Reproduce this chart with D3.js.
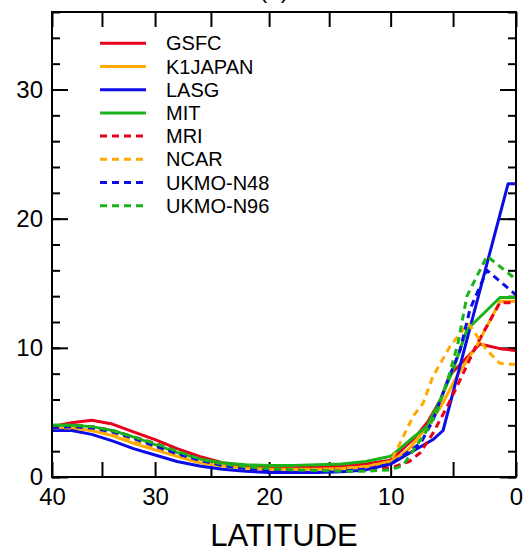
<!DOCTYPE html>
<html>
<head>
<meta charset="utf-8">
<script src="https://cdn.jsdelivr.net/npm/d3@7"></script>
<style>
  body { margin: 0; background: #fff; }
  text { font-family: "Liberation Sans", Arial, Helvetica, sans-serif; }
</style>
</head>
<body>
<div id="chart"></div>
<script>
// model names, in legend order
var models = ["GSFC", "K1JAPAN", "LASG", "MIT", "MRI", "NCAR", "UKMO-N48", "UKMO-N96"];

// [latitude, value]
var gsfc = [[40,3.9],[38,4.2],[36,4.4],[34,4.1],[32,3.5],[30,2.9],[28,2.2],[26,1.6],[24,1.1],[22,0.85],[20,0.75],[18,0.75],[16,0.8],[14,0.85],[12,1.0],[10,1.3],
    [9,2.2],[8,3.1],[7,4.3],[6,6.0],[5.25,7.9],[2.86,10.3],[1.1,9.9],[0,9.8]];
var k1japan = [[40,3.8],[38,3.8],[36,3.6],[34,3.2],[32,2.6],[30,2.1],[28,1.6],[26,1.1],[24,0.85],[22,0.7],[20,0.6],[18,0.6],[16,0.6],[14,0.65],[12,0.8],[10,1.2],
    [9,1.8],[8.4,2.3],[7,4.0],[6,5.4],[4.7,7.8],[3.1,10.2],[1.27,13.6],[0,13.6]];
var lasg = [[40,3.6],[38,3.6],[36,3.3],[34,2.8],[32,2.2],[30,1.7],[28,1.2],[26,0.85],[24,0.6],[22,0.45],[20,0.35],[18,0.35],[16,0.35],[14,0.4],[12,0.55],[10,1.0],
    [8.4,1.9],[6.6,2.9],[5.8,3.6],[3.8,11.0],[0.63,22.7],[0,22.7]];
var mit = [[40,4.0],[38,4.0],[36,3.9],[34,3.6],[32,3.1],[30,2.5],[28,1.9],[26,1.4],[24,1.1],[22,0.95],[20,0.9],[18,0.9],[16,0.95],[14,1.0],[12,1.2],[10,1.6],
    [8.4,2.9],[7.1,3.9],[6,6.0],[5,8.3],[3.9,11.4],[1.27,13.9],[0,13.9]];
var mri = [[40,3.9],[38,4.0],[36,3.9],[34,3.6],[32,3.1],[30,2.6],[28,2.0],[26,1.4],[24,1.0],[22,0.75],[20,0.65],[18,0.65],[16,0.65],[14,0.65],[12,0.65],[10,0.7],
    [8.5,1.2],[7.6,1.9],[6.6,3.4],[5.5,5.4],[4.45,7.5],[3.1,10.3],[1.27,13.5],[0,13.5]];
var ncar = [[40,3.8],[38,3.8],[36,3.6],[34,3.3],[32,2.8],[30,2.3],[28,1.7],[26,1.2],[24,0.9],[22,0.7],[20,0.6],[18,0.6],[16,0.6],[14,0.65],[12,0.8],[10,1.2],
    [9.25,2.6],[8.2,4.7],[7.4,5.7],[6.6,7.8],[5.25,10.1],[3.8,11.9],[2.3,9.8],[1.27,8.8],[0,8.7]];
var ukmoN48 = [[40,3.8],[38,3.9],[36,3.8],[34,3.5],[32,3.0],[30,2.4],[28,1.8],[26,1.3],[24,0.9],[22,0.65],[20,0.5],[18,0.45],[16,0.45],[14,0.45],[12,0.6],[10,1.0],
    [9.25,1.5],[7.6,2.6],[6.6,4.4],[5.5,7.3],[4.45,9.8],[3.65,13.0],[2.3,16.0],[0,14.1]];
var ukmoN96 = [[40,4.0],[38,4.0],[36,3.9],[34,3.6],[32,3.1],[30,2.6],[28,2.0],[26,1.4],[24,1.0],[22,0.8],[20,0.65],[18,0.55],[16,0.5],[14,0.45],[12,0.45],[10,0.55],
    [9,0.9],[7.1,3.6],[6.3,5.0],[5.25,8.1],[4.6,10.4],[3.9,14.0],[2.3,17.1],[0,15.3]];

var seriesData = [gsfc, k1japan, lasg, mit, mri, ncar, ukmoN48, ukmoN96];

// axis ticks
var latTicks = [40, 35, 30, 25, 20, 15, 10, 5, 0];
var latLabels = [40, 30, 20, 10, 0];
var yMajor = [0, 10, 20, 30];
var yMinor = d3.range(0, 37, 2);

// line styles
var colors = ["#e8001c", "#ffaa00", "#0c0ce6", "#1ab41a", "#e8001c", "#ffaa00", "#0c0ce6", "#1ab41a"];
var dashed = [false, false, false, false, true, true, true, true];

var margin = {top: 12, right: 7, bottom: 73, left: 52},
    width = 523 - margin.left - margin.right,
    height = 550 - margin.top - margin.bottom;

var svg = d3.select("#chart")
  .append("svg")
    .attr("width", 523)
    .attr("height", 550)
  .append("g")
    .attr("transform", "translate(" + margin.left + "," + margin.top + ")");

// x axis is linear in sine of latitude
var rad = Math.PI / 180;
var x = d3.scaleLinear()
    .domain([Math.sin(40 * rad), 0])
    .range([0, width]);
function xLat(lat) { return x(Math.sin(lat * rad)); }

var y = d3.scaleLinear()
    .domain([0, 36])
    .range([height, 0]);

var tickVals = latTicks.map(function(d) { return Math.sin(d * rad); });
function latFormat(d) {
  var lat = Math.round(Math.asin(d) / rad);
  return latLabels.indexOf(lat) >= 0 ? lat : "";
}

// bottom axis
svg.append("g")
    .attr("class", "axis")
    .attr("transform", "translate(0," + height + ")")
    .call(d3.axisBottom(x).tickValues(tickVals).tickFormat(latFormat).tickSizeInner(-15).tickSizeOuter(0).tickPadding(11));

// top axis
svg.append("g")
    .attr("class", "axis")
    .call(d3.axisTop(x).tickValues(tickVals).tickFormat("").tickSizeInner(-15).tickSizeOuter(0));

// left axis, major + minor
svg.append("g")
    .attr("class", "axis")
    .call(d3.axisLeft(y).tickValues(yMajor).tickSizeInner(-16).tickSizeOuter(0).tickPadding(9));
svg.append("g")
    .attr("class", "axis")
    .call(d3.axisLeft(y).tickValues(yMinor).tickFormat("").tickSizeInner(-8).tickSizeOuter(0));

// right axis
svg.append("g")
    .attr("class", "axis")
    .attr("transform", "translate(" + width + ",0)")
    .call(d3.axisRight(y).tickValues(yMajor).tickFormat("").tickSizeInner(-16).tickSizeOuter(0));
svg.append("g")
    .attr("class", "axis")
    .attr("transform", "translate(" + width + ",0)")
    .call(d3.axisRight(y).tickValues(yMinor).tickFormat("").tickSizeInner(-8).tickSizeOuter(0));

svg.selectAll(".axis .domain").remove();
svg.selectAll(".axis line").attr("stroke", "#000").attr("stroke-width", 2);
svg.selectAll(".axis text").attr("fill", "#000").style("font-size", "24px")
    .style("font-family", "'Liberation Sans', Arial, Helvetica, sans-serif");

// clip the curves to the frame
svg.append("clipPath").attr("id", "clip")
  .append("rect").attr("width", width).attr("height", height);

var line = d3.line()
    .x(function(d) { return xLat(d[0]); })
    .y(function(d) { return y(d[1]); });

svg.append("g")
    .attr("clip-path", "url(#clip)")
  .selectAll("path")
  .data(seriesData)
  .enter()
  .append("path")
    .attr("d", line)
    .attr("fill", "none")
    .attr("stroke", function(d, i) { return colors[i]; })
    .attr("stroke-width", 3)
    .attr("stroke-linejoin", "round")
    .attr("stroke-dasharray", function(d, i) { return dashed[i] ? "7,5" : null; });

// frame
svg.append("rect")
    .attr("width", width)
    .attr("height", height)
    .attr("fill", "none")
    .attr("stroke", "#000")
    .attr("stroke-width", 2);

// legend
var legend = svg.selectAll(".legend")
  .data(models)
  .enter()
  .append("g")
    .attr("transform", function(d, i) { return "translate(48," + (31.3 + i * 23.2) + ")"; });
legend.append("line")
    .attr("x1", 0).attr("x2", 46)
    .attr("stroke", function(d, i) { return colors[i]; })
    .attr("stroke-width", 3)
    .attr("stroke-dasharray", function(d, i) { return dashed[i] ? "7,5" : null; });
legend.append("text")
    .attr("x", 66)
    .attr("y", 7)
    .style("font-size", "20px")
    .text(function(d) { return d; });

// clipped panel label above the frame
svg.append("text")
    .attr("x", width / 2 - 10)
    .attr("y", -14)
    .attr("text-anchor", "middle")
    .style("font-size", "24px")
    .text("(b)");

// x label
svg.append("text")
    .attr("x", width / 2)
    .attr("y", height + 69)
    .attr("text-anchor", "middle")
    .style("font-size", "31px")
    .text("LATITUDE");
</script>
</body>
</html>
